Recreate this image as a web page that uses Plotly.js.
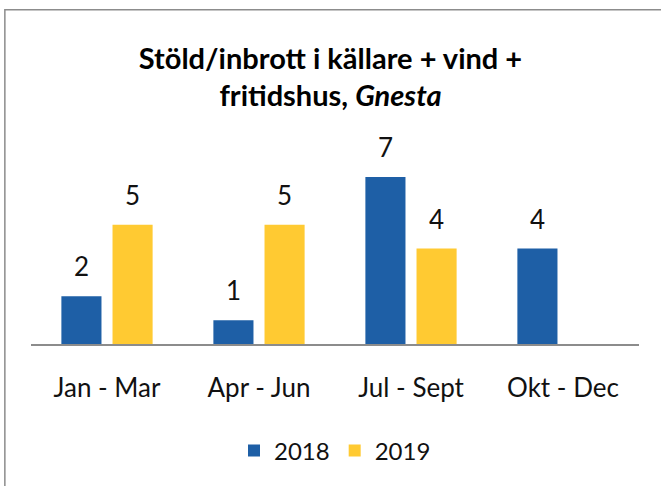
<!DOCTYPE html>
<html>
<head>
<meta charset="utf-8">
<script src="https://cdn.plot.ly/plotly-3.0.1.min.js"></script>
<style>html,body{margin:0;padding:0;background:#fff;}#chart{width:661px;height:486px;}</style>
</head>
<body>
<div id="chart"></div>
<script>
const categories = ["Jan - Mar", "Apr - Jun", "Jul - Sept", "Okt - Dec"];
const values2018 = [2, 1, 7, 4];
const values2019 = [5, 5, 4, null];
const seriesNames = ["2018", "2019"];

const FONT = "Lato, 'Open Sans', sans-serif";
const colors = ["#1E5FA6", "#FFCA32"];

const traces = [
  {type: "bar", name: seriesNames[0], x: categories, y: values2018, marker: {color: colors[0]}, hoverinfo: "none"},
  {type: "bar", name: seriesNames[1], x: categories, y: values2019, marker: {color: colors[1]}, hoverinfo: "none"}
];

// data labels as annotations (larger gap above bars, like the reference)
const annotations = [];
[values2018, values2019].forEach((vals, si) => {
  vals.forEach((v, i) => {
    if (v == null) return;
    annotations.push({x: categories[i], y: v, xref: "x", yref: "y", text: String(v), showarrow: false,
      xshift: si === 0 ? -25.5 : 25.5, yshift: 30, yanchor: "middle", xanchor: "center",
      font: {size: 26, family: FONT, color: "#111"}});
  });
});

const layout = {
  width: 661, height: 486,
  margin: {l: 31, r: 22, t: 153, b: 142},
  paper_bgcolor: "#fff", plot_bgcolor: "#fff",
  font: {family: FONT, color: "#111"},
  title: {text: "<b>Stöld/inbrott i källare + vind +<br>fritidshus, <i>Gnesta</i></b>",
          font: {size: 29, family: FONT, color: "#000"}, x: 0.5, xanchor: "center", y: 0.859, yanchor: "middle"},
  barmode: "group", bargap: 0.327, bargroupgap: 0.216,
  xaxis: {showline: true, linecolor: "#8c8c8c", linewidth: 1.5, ticks: "", tickfont: {size: 26, family: FONT, color: "#111"},
          showgrid: false, zeroline: false, fixedrange: true, ticklabelstandoff: 20},
  yaxis: {range: [0, 8], visible: false, showgrid: false, zeroline: false, fixedrange: true},
  showlegend: true,
  legend: {orientation: "h", x: 0.5, xanchor: "center", y: -0.56, yanchor: "middle",
           font: {size: 24, family: FONT, color: "#111"}, itemwidth: 30, traceorder: "normal"},
  annotations: annotations,
  shapes: [{type: "rect", xref: "paper", yref: "paper", x0: -0.043, x1: 1.2, y0: -1.0, y1: 1.75,
            line: {color: "#8c8c8c", width: 1.5}, fillcolor: "rgba(0,0,0,0)", layer: "below"}]
};

Plotly.newPlot("chart", traces, layout, {displayModeBar: false, staticPlot: true});
</script>
</body>
</html>
